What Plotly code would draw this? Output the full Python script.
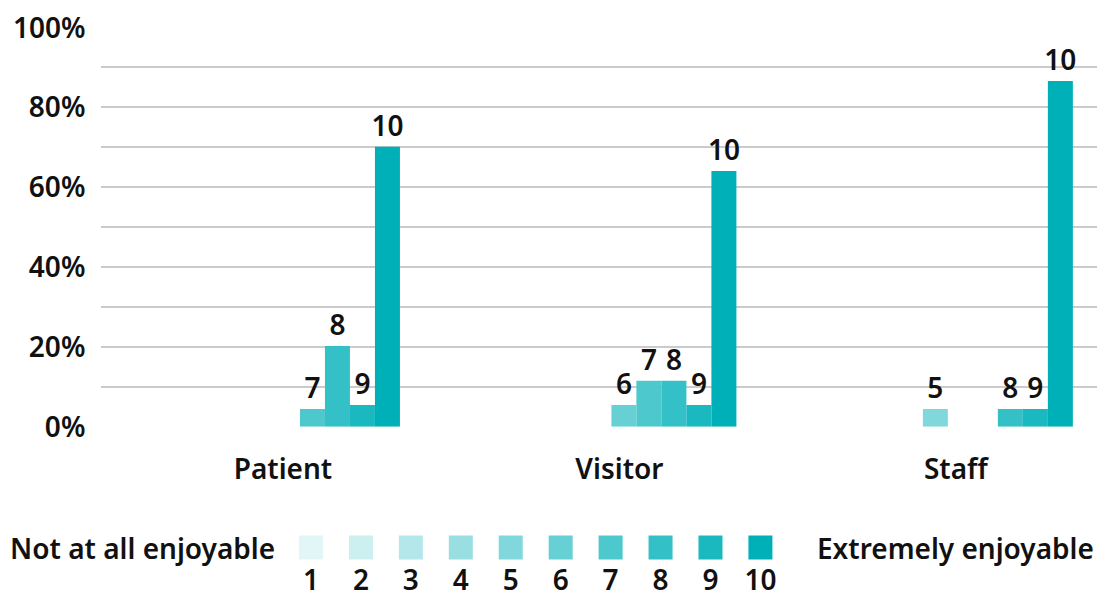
import plotly.graph_objects as go

# ---- data ----
categories = ["Patient", "Visitor", "Staff"]
levels = ["1", "2", "3", "4", "5", "6", "7", "8", "9", "10"]
# percentage of respondents giving each rating, per group (None = no responses)
values = {
    "1": [None, None, None],
    "2": [None, None, None],
    "3": [None, None, None],
    "4": [None, None, None],
    "5": [None, None, 4.4],
    "6": [None, 5.4, None],
    "7": [4.4, 11.5, None],
    "8": [20.2, 11.5, 4.4],
    "9": [5.4, 5.4, 4.4],
    "10": [70.0, 63.9, 86.4],
}
y_ticks = [0, 10, 20, 30, 40, 50, 60, 70, 80, 90]
y_ticktext = ["0%", "", "20%", "", "40%", "", "60%", "", "80%", ""]
top_label = "100%"
low_label = "Not at all enjoyable"
high_label = "Extremely enjoyable"

colors = ["#e3f6f7", "#ccefef", "#b3e7e9", "#99dfe2", "#80d8dc",
          "#66d0d4", "#4dc8cd", "#33c0c6", "#1ab8bf", "#00b0b8"]

FONT = "Noto Sans"
FS = 28
TXT = "#111111"

fig = go.Figure()

for lvl, col in zip(levels, colors):
    vals = values[lvl]
    fig.add_trace(go.Bar(
        name=lvl, x=categories, y=vals,
        marker=dict(color=col, line=dict(width=0)),
        text=[lvl if v else "" for v in vals],
        textposition="outside", cliponaxis=False, constraintext="none",
        textfont=dict(family=FONT, size=FS, color=TXT, weight=600),
        showlegend=False, hoverinfo="skip",
    ))

# custom legend: swatches + numbers drawn on a secondary axis pair
lvl_pos = [int(l) for l in levels]
fig.add_trace(go.Scatter(
    x=lvl_pos, y=[1] * len(levels), xaxis="x2", yaxis="y2", mode="markers",
    marker=dict(symbol="square", size=24, color=colors, line=dict(width=0)),
    showlegend=False, hoverinfo="skip", cliponaxis=False,
))
fig.add_trace(go.Scatter(
    x=lvl_pos, y=[0] * len(levels), xaxis="x2", yaxis="y2", mode="text",
    text=levels, textposition="middle center", cliponaxis=False,
    textfont=dict(family=FONT, size=FS, color=TXT, weight=600),
    showlegend=False, hoverinfo="skip",
))

annotations = [
    dict(text=low_label, xref="x2", yref="y2", x=0.29, y=1, xanchor="right",
         yanchor="middle", showarrow=False, borderpad=0,
         font=dict(family=FONT, size=FS, color=TXT, weight=600)),
    dict(text=high_label, xref="x2", yref="y2", x=11.12, y=1, xanchor="left",
         yanchor="middle", showarrow=False, borderpad=0,
         font=dict(family=FONT, size=FS, color=TXT, weight=600)),
    dict(text=top_label, xref="paper", yref="y", x=0, y=100, xanchor="right",
         yanchor="middle", xshift=-13, showarrow=False,
         font=dict(family=FONT, size=FS, color=TXT, weight=600)),
]

fig.update_layout(
    template="none",
    width=1097, height=589,
    margin=dict(l=93, r=0, t=2, b=0, autoexpand=False),
    paper_bgcolor="white", plot_bgcolor="white",
    barmode="group", bargap=0.257, bargroupgap=0,
    font=dict(family=FONT, size=FS, color=TXT, weight=600),
    xaxis=dict(type="category", domain=[0, 1], anchor="y", automargin=False,
               range=[-0.517, 2.467], showgrid=False, showline=False,
               zeroline=False, ticks="outside", ticklen=18,
               tickcolor="rgba(0,0,0,0)", ticklabelshift=8,
               tickfont=dict(family=FONT, size=FS, color=TXT, weight=600)),
    yaxis=dict(domain=[0.2901, 0.97155], anchor="x", range=[0, 100],
               automargin=False,
               tickmode="array", tickvals=y_ticks, ticktext=y_ticktext,
               showgrid=True, gridcolor="#cbcbcb", gridwidth=2,
               zeroline=False, showline=False, ticks="outside", ticklen=9,
               tickcolor="rgba(0,0,0,0)",
               tickfont=dict(family=FONT, size=FS, color=TXT, weight=600)),
    xaxis2=dict(domain=[0, 1], anchor="y2", range=[-3.205, 16.9],
                visible=False, fixedrange=True, automargin=False),
    yaxis2=dict(domain=[0, 0.25], anchor="x2", range=[-0.394, 3.739],
                visible=False, fixedrange=True, automargin=False),
    annotations=annotations,
)

fig.write_html("out.html")
